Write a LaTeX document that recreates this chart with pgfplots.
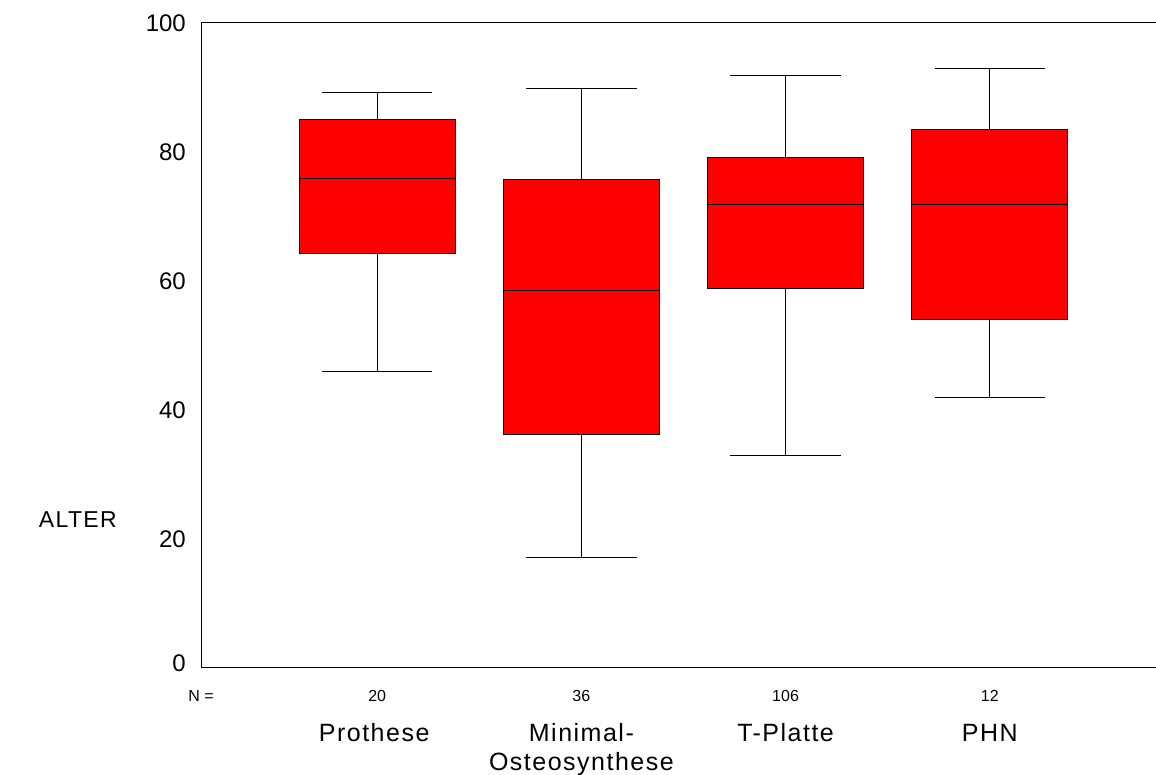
\documentclass[border=0pt]{standalone}
\usepackage{pgfplots}
\pgfplotsset{compat=1.18}
\usepgfplotslibrary{statistics}
\usepackage{fontspec}
\setmainfont{Liberation Sans}
\newfontfamily\spss[LetterSpace=6]{Liberation Sans}
\begin{document}
\begin{tikzpicture}
\path[use as bounding box] (-202pt,-107pt) rectangle (954pt,668pt);
\begin{axis}[
  at={(0,0)}, anchor=south west, scale only axis,
  width=954pt, height=645pt,
  xmin=0.142, xmax=4.814, ymin=0, ymax=100,
  axis line style={draw=none},
  xtick=\empty,
  ytick={0,20,40,60,80,100},
  yticklabels={\raisebox{10pt}{0},20,40,60,80,100},
  major tick length=0pt,
  yticklabel style={font=\fontsize{24}{28}\selectfont, inner sep=0pt, xshift=-16pt},
  clip=false,
  boxplot/draw direction=y,
  boxplot/box extend=0.765,
  boxplot/whisker extend=0.54,
]
\addplot[boxplot prepared={draw position=1, lower whisker=45.9, lower quartile=64.2, median=75.9, upper quartile=85.1, upper whisker=89.2}, fill=red, draw=black, line width=1pt, mark=none] coordinates {};
\addplot[boxplot prepared={draw position=2, lower whisker=17.2, lower quartile=36.2, median=58.6, upper quartile=75.7, upper whisker=89.8}, fill=red, draw=black, line width=1pt, mark=none] coordinates {};
\addplot[boxplot prepared={draw position=3, lower whisker=32.9, lower quartile=58.8, median=71.9, upper quartile=79.1, upper whisker=91.8}, fill=red, draw=black, line width=1pt, mark=none] coordinates {};
\addplot[boxplot prepared={draw position=4, lower whisker=41.9, lower quartile=54.0, median=71.9, upper quartile=83.5, upper whisker=92.9}, fill=red, draw=black, line width=1pt, mark=none] coordinates {};
\draw[line width=1pt] (rel axis cs:1,1) -- (rel axis cs:0,1) -- (rel axis cs:0,0) -- (rel axis cs:1,0);
\begin{scope}[every node/.style={font=\fontsize{16}{19}\selectfont, anchor=base}]
\node[yshift=-34pt] at (axis cs:0.137,0) {N =};
\node[yshift=-34pt] at (axis cs:1,0) {20};
\node[yshift=-34pt] at (axis cs:2,0) {36};
\node[yshift=-34pt] at (axis cs:3,0) {106};
\node[yshift=-34pt] at (axis cs:4,0) {12};
\end{scope}
\begin{scope}[every node/.style={font=\fontsize{25}{29}\selectfont\spss, anchor=base}]
\node[yshift=-74pt] at (axis cs:0.985,0) {Prothese};
\node[yshift=-74pt] at (axis cs:2,0) {Minimal-};
\node[yshift=-103pt] at (axis cs:2,0) {Osteosynthese};
\node[yshift=-74pt] at (axis cs:3,0) {T-Platte};
\node[yshift=-74pt] at (axis cs:4,0) {PHN};
\end{scope}
\end{axis}
\node[anchor=base east, inner sep=0pt, font=\fontsize{23}{27}\selectfont\spss] at (-85pt,140pt) {ALTER};
\end{tikzpicture}
\end{document}
